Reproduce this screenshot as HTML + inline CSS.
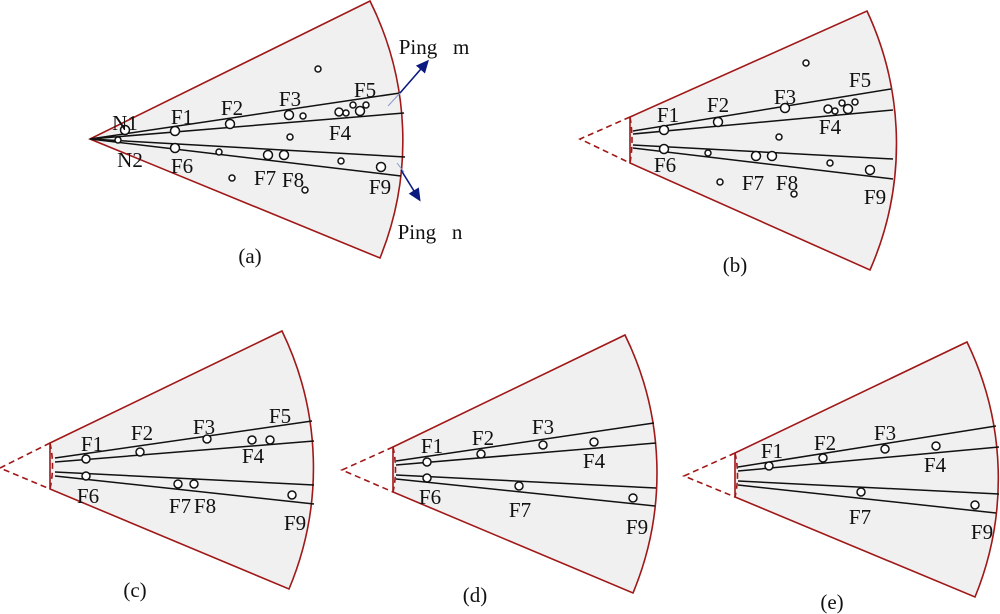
<!DOCTYPE html>
<html><head><meta charset="utf-8"><style>
html,body{margin:0;padding:0;background:#fff;}
svg{display:block;}
text{font-family:"Liberation Serif",serif;font-size:21px;fill:#111;text-anchor:middle;}
.s{fill:#f0f0f0;stroke:#a01818;stroke-width:1.6;}
.d{fill:none;stroke:#a01818;stroke-width:1.6;stroke-dasharray:6,4;}
.l{stroke:#111;stroke-width:1.5;fill:none;}
.c{fill:#fff;stroke:#111;stroke-width:1.5;}
</style></head><body>
<svg width="1000" height="614" viewBox="0 0 1000 614" xmlns="http://www.w3.org/2000/svg">
<defs><marker id="ah" markerWidth="14" markerHeight="14" refX="10" refY="7" orient="auto" markerUnits="userSpaceOnUse"><path d="M0,1 L13,7 L0,13 z" fill="#0a1a80"/></marker></defs>

<!-- (a) -->
<path class="s" d="M90,139 L370,1 A313,313 0 0 1 380,258 Z"/>
<path class="l" d="M90,139 L400,93 M90,139 L404,113 M90,139 L405,157 M90,139 L401,176"/>
<g class="c">
<circle cx="125" cy="130" r="4.5"/><circle cx="118" cy="140" r="3"/><circle cx="175" cy="131" r="4.5"/><circle cx="230" cy="124" r="4.5"/><circle cx="289" cy="115" r="4.5"/><circle cx="303" cy="116" r="3"/>
<circle cx="339" cy="112" r="4"/><circle cx="346" cy="113" r="3"/><circle cx="353" cy="105" r="3"/><circle cx="360" cy="111" r="4.5"/><circle cx="366" cy="105" r="3"/>
<circle cx="318" cy="69" r="3"/><circle cx="290" cy="137" r="3"/><circle cx="175" cy="148" r="4.5"/><circle cx="219" cy="152" r="3"/><circle cx="268" cy="155" r="4.5"/><circle cx="284" cy="155" r="4.5"/><circle cx="341" cy="161" r="3"/><circle cx="381" cy="167" r="4.5"/><circle cx="232" cy="178" r="3"/><circle cx="305" cy="190" r="3"/>
</g>
<line x1="388" y1="106" x2="400" y2="93" stroke="#8899cc" stroke-width="1"/>
<line x1="397" y1="163" x2="404" y2="172" stroke="#8899cc" stroke-width="1"/>
<line x1="400" y1="93" x2="427" y2="62" stroke="#0a1a80" stroke-width="1.6" marker-end="url(#ah)"/>
<line x1="401" y1="170" x2="419" y2="199" stroke="#0a1a80" stroke-width="1.6" marker-end="url(#ah)"/>
<text x="125" y="130">N1</text><text x="130" y="167">N2</text><text x="182" y="124">F1</text><text x="232" y="115">F2</text><text x="290" y="106">F3</text><text x="365" y="97">F5</text><text x="340" y="140">F4</text><text x="182" y="173">F6</text><text x="265" y="185">F7</text><text x="293" y="187">F8</text><text x="380" y="194">F9</text>
<text x="434" y="54">Ping&#160;&#160;&#160;m</text><text x="430" y="239">Ping&#160;&#160;&#160;n</text>
<text x="250" y="263">(a)</text>

<!-- (b) -->
<path class="s" d="M630,117 L867,11 A314,314 0 0 1 870,270 L630,163 Z"/>
<path class="d" d="M630,117 L580,139 L630,163 M630,117 Q634,140 630,163"/>
<path class="l" d="M633,131 L891,89 M633,134 L893,110 M633,145 L893,159 M633,148 L893,179"/>
<g class="c">
<circle cx="664" cy="130" r="4.5"/><circle cx="718" cy="122" r="4.5"/><circle cx="785" cy="108" r="4.5"/><circle cx="828" cy="109" r="4"/><circle cx="835" cy="111" r="3"/><circle cx="848" cy="109" r="4.5"/><circle cx="842" cy="103" r="3"/><circle cx="855" cy="102" r="3"/>
<circle cx="806" cy="63" r="3"/><circle cx="779" cy="137" r="3"/><circle cx="664" cy="149" r="4.5"/><circle cx="708" cy="153" r="3"/><circle cx="756" cy="156" r="4.5"/><circle cx="772" cy="156" r="4.5"/><circle cx="830" cy="163" r="3"/><circle cx="870" cy="170" r="4.5"/><circle cx="720" cy="182" r="3"/><circle cx="794" cy="194" r="3"/>
</g>
<text x="668" y="122">F1</text><text x="718" y="112">F2</text><text x="785" y="104">F3</text><text x="860" y="87">F5</text><text x="830" y="134">F4</text><text x="665" y="172">F6</text><text x="753" y="190">F7</text><text x="787" y="190">F8</text><text x="875" y="204">F9</text>
<text x="735" y="272">(b)</text>

<!-- (c) -->
<path class="s" d="M50,443 L282,331 A313,313 0 0 1 289,589 L50,489 Z"/>
<path class="d" d="M50,443 L0,468 L50,489 M50,443 Q55,466 50,489"/>
<path class="l" d="M55,458 L312,421 M55,462 L314,441 M55,472 L314,485 M55,476 L314,504"/>
<g class="c">
<circle cx="86" cy="459" r="4"/><circle cx="140" cy="452" r="4"/><circle cx="207" cy="439" r="4"/><circle cx="252" cy="440" r="4"/><circle cx="270" cy="440" r="4"/><circle cx="86" cy="476" r="4"/><circle cx="178" cy="484" r="4"/><circle cx="194" cy="484" r="4"/><circle cx="292" cy="495" r="4"/>
</g>
<text x="92" y="451">F1</text><text x="142" y="440">F2</text><text x="204" y="434">F3</text><text x="280" y="423">F5</text><text x="253" y="463">F4</text><text x="88" y="503">F6</text><text x="180" y="513">F7</text><text x="205" y="513">F8</text><text x="295" y="530">F9</text>
<text x="135" y="597">(c)</text>

<!-- (d) -->
<path class="s" d="M393,447 L625,335 A313,313 0 0 1 633,593 L393,492 Z"/>
<path class="d" d="M393,447 L342,470 L393,492 M393,447 Q398,470 393,492"/>
<path class="l" d="M396,461 L654,423 M396,465 L656,443 M396,475 L656,488 M396,479 L655,506"/>
<g class="c">
<circle cx="427" cy="462" r="4"/><circle cx="481" cy="454" r="4"/><circle cx="543" cy="445" r="4"/><circle cx="594" cy="442" r="4"/><circle cx="427" cy="478" r="4"/><circle cx="519" cy="486" r="4"/><circle cx="633" cy="498" r="4"/>
</g>
<text x="432" y="453">F1</text><text x="483" y="445">F2</text><text x="543" y="434">F3</text><text x="594" y="468">F4</text><text x="430" y="504">F6</text><text x="520" y="517">F7</text><text x="637" y="534">F9</text>
<text x="475" y="602">(d)</text>

<!-- (e) -->
<path class="s" d="M735,453 L967,342 A313,313 0 0 1 975,597 L735,497 Z"/>
<path class="d" d="M735,453 L684,476 L735,497 M735,453 Q740,475 735,497"/>
<path class="l" d="M738,467 L996,426 M738,471 L999,447 M738,481 L999,494 M738,485 L996,513"/>
<g class="c">
<circle cx="769" cy="466" r="4"/><circle cx="823" cy="458" r="4"/><circle cx="885" cy="449" r="4"/><circle cx="936" cy="446" r="4"/><circle cx="861" cy="492" r="4"/><circle cx="975" cy="505" r="4"/>
</g>
<text x="772" y="458">F1</text><text x="825" y="450">F2</text><text x="885" y="440">F3</text><text x="935" y="472">F4</text><text x="860" y="524">F7</text><text x="982" y="539">F9</text>
<text x="832" y="609">(e)</text>
</svg>
</body></html>
